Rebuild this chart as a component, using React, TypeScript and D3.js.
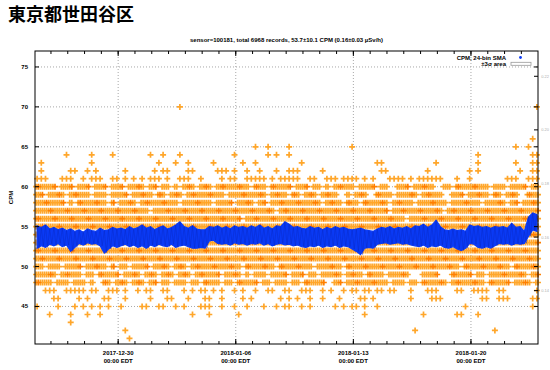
import { useMemo } from "react";
import * as d3 from "d3";

const W = 550;
const H = 370;
const M = { top: 51, right: 12, bottom: 26, left: 35 };

const TITLE = "東京都世田谷区";
const SUBTITLE =
  "sensor=100181, total 6968 records, 53.7±10.1 CPM (0.16±0.03 µSv/h)";

// x is measured in days since 2017-12-30 00:00 EDT
const X_DOMAIN = [-4.95, 24.99];
const Y_DOMAIN = [40.3, 77];
const BIN = 0.25; // one reading column = 6 hours

const xTickDays = [0, 7, 14, 21];
const xTickDates = ["2017-12-30", "2018-01-06", "2018-01-13", "2018-01-20"];
const xTickTimes = ["00:00 EDT", "00:00 EDT", "00:00 EDT", "00:00 EDT"];
const yTicks = [45, 50, 55, 60, 65, 70, 75];
const y2Ticks = [0.14, 0.16, 0.18, 0.2, 0.22];
const CPM_PER_USVH = 335.6;

// raw counts sit on integer CPM levels; runs of 6h columns that hold points
const cpmLevels = [
  70, 66, 65, 64, 63, 62, 61, 60, 59, 58, 57, 56, 55, 54, 53, 52, 51, 50, 49,
  48, 47, 46, 45, 44, 43, 42, 41,
];
const cpmRuns = [
  "34 119",
  "118",
  "52 55 60 75 114 117",
  "7 13 18 27 30 34 47 55 57 60 105 118-119",
  "1 13 29 33 36 42 49 52 63 81-82 95 105 114 118-119",
  "1 8-9 12 14 21 28 30-31 36-37 43-45 47 50 53 57 60-62 68 82-83 93 103 105 115 118-119",
  "0-2 6-8 11 13-15 18-19 21 23 25 27-29 31 34-36 39 44 46-47 50-54 56 58-62 65-66 69-71 73-76 78 80 84-87 89 91-96 100 103 112-114 117-119",
  "0-4 6-8 10-12 14-16 18-20 22-25 27-28 30-31 33 35-37 39-41 43-50 52-54 56-60 62-64 66-67 69 71-75 77-80 82-83 86-88 90-94 97-98 100-107 109-111 113-116 118-119",
  "0-1 3-6 8-12 14-16 18-21 23-27 29-30 32-34 36-44 46-54 56-59 61-62 64-66 68-71 74 76-78 81-84 86-90 92-96 99-101 103-107 109-110 112-114 117-119",
  "0-6 8 10-16 18 20-23 25-33 35-41 43-46 48-51 53-54 56-67 69-72 74-76 78-83 85-89 91-97 99-105 107-111 113-114 116-119",
  "0-26 28-56 58-83 85-96 98-119",
  "0-48 50-87 89-119",
  "0-119",
  "0-119",
  "0-119",
  "0-119",
  "0-119",
  "0-1 3-5 7-10 12-16 18 20-21 23-26 28-31 33-35 37-48 50-56 58-65 67-72 74-100 102-112 114-119",
  "0-4 6-10 12-13 15-19 21-24 26-28 30-32 34-36 38-43 45-48 50 52-54 56-59 61-63 65-66 68-72 74-77 79-82 84-88 92-95 99-103 105-106 108-116 118-119",
  "0-3 5-7 9-11 13 16-17 19-21 23-25 27-28 30-31 33-35 37-38 40-43 45-46 48-52 54-55 57-59 61-62 64-68 71-72 74-83 85-87 89-90 92-97 99-106 108-112 114-117 119",
  "2-4 7-11 13-14 17-19 21 24 26-27 30-31 35 37 39-40 42 44 47 49 52 55-56 59-60 63-65 68 70 73 75-76 78-79 81-82 84-85 89 93-95 100-101 104-107 110-111 119",
  "4-5 10 12 16-17 21 27 31-32 36 40-41 44 49 51 58 60 62 65 68 72 77-78 80 89 94-96 106-107 110-112 118-119",
  "0 5 9 11 13 15 17 20 25-26 29-30 33 35 39-41 44 47 50 54 57 59-60 63 65 71 73 75-76 78 81 102 118",
  "3 8 12 15 37 41 48 78 92 100-101 105",
  "8",
  "21 90 109",
  "22",
];

// 24-bin SMA, upper and lower edge of its trace per 6h column
const smaUpper = [
  55.1, 54.9, 55.2, 54.7, 54.9, 54.6, 54.8, 54.5, 54.7, 54.4,
  54.6, 54.3, 54.7, 54.5, 54.4, 54.8, 54.5, 54.6, 54.9, 54.7,
  54.8, 54.6, 55.0, 54.7, 54.9, 55.2, 54.8, 55.0, 54.6, 54.9,
  55.1, 54.7, 54.9, 55.2, 55.6, 55.0, 54.8, 55.1, 54.7, 54.6,
  54.6, 55.0, 54.9, 55.1, 54.8, 55.0, 54.7, 55.1, 54.9, 55.0,
  54.8, 55.1, 54.9, 55.2, 54.8, 55.0, 54.7, 55.1, 55.0, 55.6,
  55.3, 54.9, 55.0, 54.8, 54.7, 55.0, 54.8, 54.9, 54.6, 54.9,
  54.7, 55.0, 54.8, 54.9, 54.7, 54.6, 54.7, 54.8, 54.6, 54.5,
  54.4, 54.7, 54.9, 54.8, 55.0, 54.7, 54.9, 54.8, 55.0, 54.7,
  55.1, 55.0, 55.3, 54.9, 55.2, 55.8, 55.0, 54.6, 54.5, 54.7,
  54.5, 54.6, 54.4, 55.2, 55.0, 55.1, 54.9, 55.0, 54.8, 55.0,
  54.9, 55.0, 54.8, 55.4, 54.9, 55.0, 54.4, 56.2, 56.7, 56.5,
];
const smaLower = [
  52.3, 52.6, 52.4, 52.8, 52.6, 52.9, 52.5, 52.7, 51.9, 52.4,
  52.9, 52.7, 53.0, 52.8, 52.9, 52.6, 51.7, 52.2, 52.6, 52.4,
  52.6, 52.8, 52.5, 52.7, 52.4, 52.6, 52.3, 52.7, 52.5, 52.8,
  52.6, 52.5, 52.8, 52.4, 52.6, 52.7, 52.5, 52.3, 52.3, 52.4,
  52.3, 53.2, 53.3, 52.9, 52.8, 52.9, 52.7, 53.0, 52.8, 52.9,
  52.7, 52.9, 52.8, 53.0, 52.7, 52.9, 52.6, 52.8, 52.9, 52.7,
  52.8, 52.6, 52.7, 52.5, 52.4, 52.6, 52.5, 52.7, 52.4, 52.6,
  52.5, 52.7, 52.4, 52.6, 52.5, 52.2, 51.9, 51.5, 52.3, 52.4,
  52.3, 52.8, 52.9, 53.0, 52.8, 52.9, 53.0, 52.8, 52.9, 52.7,
  52.6, 52.5, 52.7, 52.4, 52.6, 52.5, 52.7, 52.4, 52.3, 52.5,
  52.2, 52.0, 52.3, 52.9, 52.8, 52.4, 52.3, 52.5, 52.3, 52.6,
  52.9, 52.8, 52.9, 52.7, 52.9, 52.8, 52.9, 53.8, 54.6, 54.4,
];

const FONT = "'Liberation Sans', Arial, sans-serif";
const GRID = "#a8a8a8";
const ORANGE = "#ffa62a";
const ORANGE_DARK = "#ff7f00";
const BLUE = "#0a3af5";
const BLUE_DARK = "#0824b8";

function parseRuns(s: string): number[] {
  const cols: number[] = [];
  for (const tok of s.split(" ")) {
    const [a, b] = tok.split("-").map(Number);
    for (let c = a; c <= (b ?? a); c++) cols.push(c);
  }
  return cols;
}

export default function App() {
  const innerL = M.left;
  const innerR = W - M.right;
  const innerT = M.top;
  const innerB = H - M.bottom;

  const x = d3.scaleLinear().domain(X_DOMAIN).range([innerL, innerR]);
  const y = d3.scaleLinear().domain(Y_DOMAIN).range([innerB, innerT]);
  const colDay = (c: number) => X_DOMAIN[0] + (c + 0.5) * BIN;

  const { lightPath, darkPath } = useMemo(() => {
    let light = "";
    let dark = "";
    const arm = 3;
    const cross = (px: number, py: number) =>
      `M${(px - arm).toFixed(1)},${py.toFixed(1)}h${arm * 2}M${px.toFixed(1)},${(py - arm).toFixed(1)}v${arm * 2}`;
    cpmLevels.forEach((lvl, i) => {
      const cols = parseRuns(cpmRuns[i]);
      const dense = cols.length > 80;
      const py = y(lvl);
      for (const c of cols) {
        const px = x(colDay(c));
        if (dense) {
          // busy levels hold several overlapping points per column
          light += cross(px - 1.05, py);
          if ((c * 7 + lvl * 3) % 4 === 0) dark += cross(px + 1.05, py);
          else light += cross(px + 1.05, py);
        } else {
          light += cross(px, py);
        }
      }
    });
    return { lightPath: light, darkPath: dark };
  }, []);

  const smaArea = d3
    .area<number>()
    .x((_, i) => x(colDay(i)))
    .y0((_, i) => y(smaLower[i]))
    .y1((d) => y(d))(smaUpper);
  // the trace itself jumps between its edges from bin to bin
  const zigzag = d3.line<[number, number]>()(
    smaUpper.flatMap((u, i) => [
      [x(colDay(i)), y(u)] as [number, number],
      [x(colDay(i + 0.5)), y(smaLower[i])] as [number, number],
    ]),
  );

  const minorDays = d3.range(-4, 25);

  return (
    <svg
      width={W}
      height={H}
      style={{ position: "absolute", left: 0, top: 0, background: "#fff" }}
    >
      <text
        x={8}
        y={21}
        fontSize={18}
        fontWeight="bold"
        fontFamily="'Noto Sans CJK JP', sans-serif"
        fill="#000"
      >
        {TITLE}
      </text>
      <text
        x={(innerL + innerR) / 2}
        y={41.5}
        textAnchor="middle"
        fontSize={6}
        fontWeight="bold"
        fontFamily={FONT}
        fill="#000"
      >
        {SUBTITLE}
      </text>

      {/* grid */}
      {yTicks.map((t) => (
        <line
          key={`gy${t}`}
          x1={innerL}
          x2={innerR}
          y1={y(t)}
          y2={y(t)}
          stroke={GRID}
          strokeDasharray="1 2"
        />
      ))}
      {xTickDays.map((d) => (
        <line
          key={`gx${d}`}
          x1={x(d)}
          x2={x(d)}
          y1={innerT}
          y2={innerB}
          stroke={GRID}
          strokeDasharray="1 2"
        />
      ))}

      {/* raw counts */}
      <path d={lightPath} stroke={ORANGE} strokeWidth={1.7} fill="none" />
      <path d={darkPath} stroke={ORANGE_DARK} strokeWidth={1.7} fill="none" />

      {/* SMA trace */}
      <path d={smaArea ?? ""} fill={BLUE} stroke={BLUE} strokeWidth={1.2} />
      <path d={zigzag ?? ""} fill="none" stroke={BLUE_DARK} strokeWidth={0.6} opacity={0.6} />

      {/* frame */}
      <rect
        x={innerL}
        y={innerT}
        width={innerR - innerL}
        height={innerB - innerT}
        fill="none"
        stroke="#000"
        strokeWidth={1}
      />

      {/* x ticks */}
      {minorDays.map((d) => (
        <g key={`mx${d}`}>
          <line x1={x(d)} x2={x(d)} y1={innerB} y2={innerB - 3} stroke="#000" />
          <line x1={x(d)} x2={x(d)} y1={innerT} y2={innerT + 3} stroke="#000" />
        </g>
      ))}
      {xTickDays.map((d, i) => (
        <g key={`xl${d}`} fontFamily={FONT} fontSize={6} fontWeight="bold">
          <line x1={x(d)} x2={x(d)} y1={innerB} y2={innerB - 5} stroke="#000" />
          <line x1={x(d)} x2={x(d)} y1={innerT} y2={innerT + 5} stroke="#000" />
          <text x={x(d)} y={354.5} textAnchor="middle">
            {xTickDates[i]}
          </text>
          <text x={x(d)} y={362.5} textAnchor="middle">
            {xTickTimes[i]}
          </text>
        </g>
      ))}

      {/* y ticks */}
      {yTicks.map((t) => (
        <g key={`yt${t}`}>
          <line x1={innerL} x2={innerL + 4} y1={y(t)} y2={y(t)} stroke="#000" />
          <line x1={innerR} x2={innerR - 4} y1={y(t)} y2={y(t)} stroke="#000" />
          <text
            x={innerL - 7}
            y={y(t) + 2}
            textAnchor="end"
            fontSize={6}
            fontWeight="bold"
            fontFamily={FONT}
          >
            {t}
          </text>
        </g>
      ))}
      {y2Ticks.map((t) => (
        <g key={`y2${t}`}>
          <line
            x1={innerR}
            x2={innerR - 4}
            y1={y(t * CPM_PER_USVH)}
            y2={y(t * CPM_PER_USVH)}
            stroke="#000"
          />
          <text
            x={W - 1}
            y={y(t * CPM_PER_USVH) + 1.5}
            textAnchor="end"
            fontSize={4}
            fontFamily={FONT}
            fill="#b0b0b0"
          >
            {t.toFixed(2)}
          </text>
        </g>
      ))}
      <text
        transform={`translate(13,${(innerT + innerB) / 2}) rotate(-90)`}
        textAnchor="middle"
        fontSize={6}
        fontWeight="bold"
        fontFamily={FONT}
      >
        CPM
      </text>

      {/* legend */}
      <g fontFamily={FONT} fontSize={6} fontWeight="bold">
        <text x={506} y={59.5} textAnchor="end">
          CPM, 24-bin SMA
        </text>
        <circle cx={520.5} cy={57.5} r={1.4} fill={BLUE} />
        <text x={506} y={66.3} textAnchor="end">
          ±3σ area
        </text>
        <rect
          x={511}
          y={62.3}
          width={20}
          height={3}
          fill="#fff"
          stroke="#999"
          strokeWidth={0.8}
        />
      </g>
    </svg>
  );
}
